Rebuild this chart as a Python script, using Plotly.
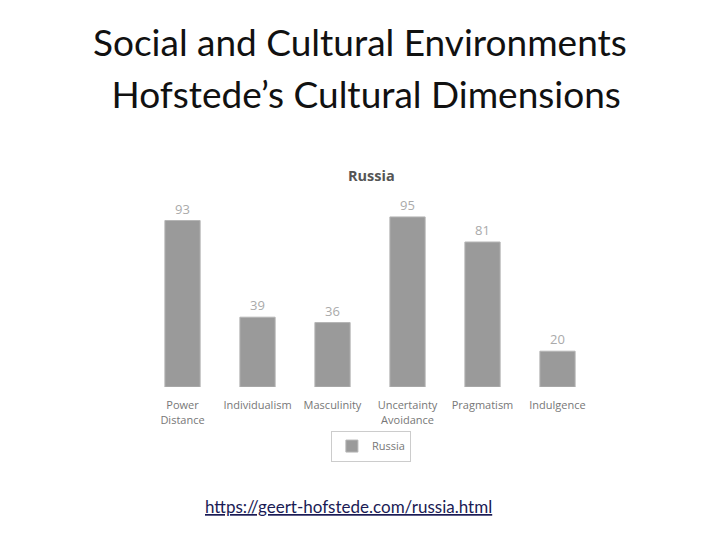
import plotly.graph_objects as go

categories = ["Power<br>Distance", "Individualism", "Masculinity", "Uncertainty<br>Avoidance", "Pragmatism", "Indulgence"]
values = [93, 39, 36, 95, 81, 20]
series_name = "Russia"

fig = go.Figure()
fig.add_trace(go.Bar(
    x=categories, y=values, name=series_name,
    marker=dict(color="#9a9a9a", line=dict(color="#b5b5b5", width=1)),
    text=[str(v) for v in values], textposition="outside",
    textfont=dict(family="Open Sans", size=13, color="#aaaaaa"),
    cliponaxis=False, showlegend=True,
))

fig.update_layout(
    width=720, height=540,
    margin=dict(l=137, r=133, t=200, b=161),
    paper_bgcolor="white", plot_bgcolor="white",
    bargap=0.53,
    xaxis=dict(range=[-0.5, 5.5], showgrid=False, zeroline=False, showline=False,
               ticks="outside", ticklen=8, tickcolor="rgba(0,0,0,0)",
               tickfont=dict(family="Open Sans", size=11, color="#777777")),
    yaxis=dict(range=[0, 100], visible=False),
    legend=dict(x=0.502, y=-0.33, xanchor="center", yanchor="middle",
                bordercolor="#cccccc", borderwidth=1, bgcolor="white",
                font=dict(family="Open Sans", size=11, color="#777777"),
                itemwidth=30),
    annotations=[
        dict(text="Social and Cultural Environments", xref="paper", yref="paper",
             x=(360-145)/450, y=(387-41)/179, xanchor="center", yanchor="middle",
             showarrow=False, font=dict(family="Lato", size=37, color="#111111")),
        dict(text=" Hofstede\u2019s Cultural Dimensions", xref="paper", yref="paper",
             x=(361-145)/450, y=(387-93)/179, xanchor="center", yanchor="middle",
             showarrow=False, font=dict(family="Lato", size=37, color="#111111")),
        dict(text="<b>Russia</b>", xref="paper", yref="paper",
             x=(371-145)/450, y=(387-175)/179, xanchor="center", yanchor="middle",
             showarrow=False, font=dict(family="Open Sans", size=14.5, color="#555555")),
        dict(text="<u>https://geert-hofstede.com/russia.html</u>", xref="paper", yref="paper",
             x=(348-145)/450, y=(387-506)/179, xanchor="center", yanchor="middle",
             showarrow=False, font=dict(family="Lato", size=17, color="#1b1b55")),
    ],
)

fig.write_html("out.html")
